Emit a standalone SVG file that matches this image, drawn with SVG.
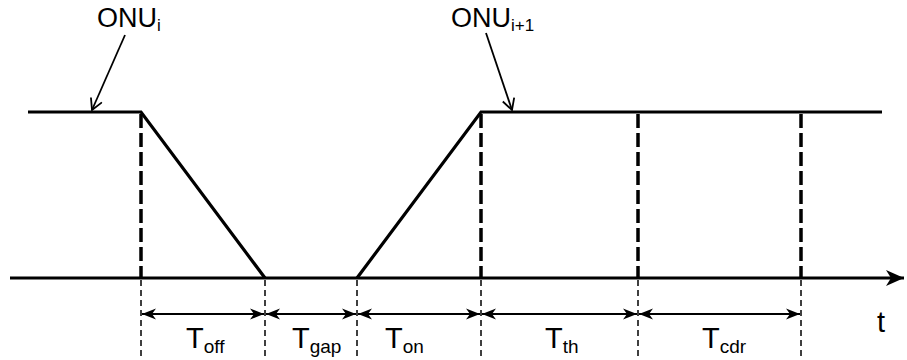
<svg xmlns="http://www.w3.org/2000/svg" width="907" height="360" viewBox="0 0 907 360">
<style>
.sig{stroke:#000;stroke-width:3.2;fill:none;stroke-linejoin:miter}
.thick{stroke:#000;stroke-width:3.5;stroke-dasharray:14,5;fill:none}
.thin{stroke:#000;stroke-width:1.5;stroke-dasharray:6,4;fill:none}
.dim{stroke:#000;stroke-width:1.8;fill:none}
.lead{stroke:#000;stroke-width:1.8;fill:none}
text{font-family:"Liberation Sans",Arial,sans-serif;fill:#000}
.big{font-size:27px}
.tl{font-size:29px}
.sub{font-size:17px}
.tsub{font-size:19px}
</style>
<defs>
<marker id="axis" markerWidth="20" markerHeight="16" refX="18" refY="8" orient="auto" markerUnits="userSpaceOnUse">
<path d="M0,0 L18,8 L0,16 L5,8 Z" fill="#000"/>
</marker>
<marker id="dimA" markerWidth="16" markerHeight="12" refX="14" refY="6" orient="auto" markerUnits="userSpaceOnUse">
<path d="M0,0.5 L14,6 L0,11.5 L4,6 Z" fill="#000"/>
</marker>
<marker id="open" markerWidth="14" markerHeight="14" refX="12" refY="7" orient="auto" markerUnits="userSpaceOnUse">
<path d="M1,1 L12,7 L1,13" fill="none" stroke="#000" stroke-width="1.8"/>
</marker>
</defs>

<g id="signal">
<path class="sig" d="M28,112 L141,112 L265,278"/>
<path class="sig" d="M357,278 L481,112 L882,112"/>
<line class="sig" x1="10" y1="278" x2="904" y2="278" marker-end="url(#axis)"/>
</g>

<g id="guides">
<line class="thick" x1="141" y1="114" x2="141" y2="278"/>
<line class="thick" x1="481" y1="114" x2="481" y2="278"/>
<line class="thick" x1="638" y1="114" x2="638" y2="278"/>
<line class="thick" x1="801" y1="114" x2="801" y2="278"/>
<line class="thin" x1="141" y1="280" x2="141" y2="360"/>
<line class="thin" x1="265" y1="280" x2="265" y2="360"/>
<line class="thin" x1="357" y1="280" x2="357" y2="360"/>
<line class="thin" x1="481" y1="280" x2="481" y2="360"/>
<line class="thin" x1="638" y1="280" x2="638" y2="360"/>
<line class="thin" x1="801" y1="280" x2="801" y2="360"/>
</g>

<g id="connectors">
<line class="dim" x1="203" y1="314" x2="142" y2="314" marker-end="url(#dimA)"/>
<line class="dim" x1="203" y1="314" x2="264" y2="314" marker-end="url(#dimA)"/>
<line class="dim" x1="311" y1="314" x2="266" y2="314" marker-end="url(#dimA)"/>
<line class="dim" x1="311" y1="314" x2="356" y2="314" marker-end="url(#dimA)"/>
<line class="dim" x1="419" y1="314" x2="358" y2="314" marker-end="url(#dimA)"/>
<line class="dim" x1="419" y1="314" x2="480" y2="314" marker-end="url(#dimA)"/>
<line class="dim" x1="560" y1="314" x2="482" y2="314" marker-end="url(#dimA)"/>
<line class="dim" x1="560" y1="314" x2="637" y2="314" marker-end="url(#dimA)"/>
<line class="dim" x1="720" y1="314" x2="639" y2="314" marker-end="url(#dimA)"/>
<line class="dim" x1="720" y1="314" x2="800" y2="314" marker-end="url(#dimA)"/>
<line class="lead" x1="125" y1="35" x2="92" y2="110" marker-end="url(#open)"/>
<line class="lead" x1="486" y1="33" x2="512" y2="110" marker-end="url(#open)"/>
</g>

<g id="label-onu-i"><text x="97" y="27" class="big">ONU<tspan class="sub" dy="4">i</tspan></text></g>
<g id="label-onu-i1"><text x="451" y="27" class="big">ONU<tspan class="sub" dy="4">i+1</tspan></text></g>
<g id="label-toff"><text x="186" y="348" class="tl">T<tspan class="tsub" dy="5">off</tspan></text></g>
<g id="label-tgap"><text x="292" y="348" class="tl">T<tspan class="tsub" dy="5">gap</tspan></text></g>
<g id="label-ton"><text x="385" y="348" class="tl">T<tspan class="tsub" dy="5">on</tspan></text></g>
<g id="label-tth"><text x="545" y="348" class="tl">T<tspan class="tsub" dy="5">th</tspan></text></g>
<g id="label-tcdr"><text x="702" y="348" class="tl">T<tspan class="tsub" dy="5">cdr</tspan></text></g>
<g id="label-t"><text x="877" y="332" class="tl">t</text></g>
</svg>
